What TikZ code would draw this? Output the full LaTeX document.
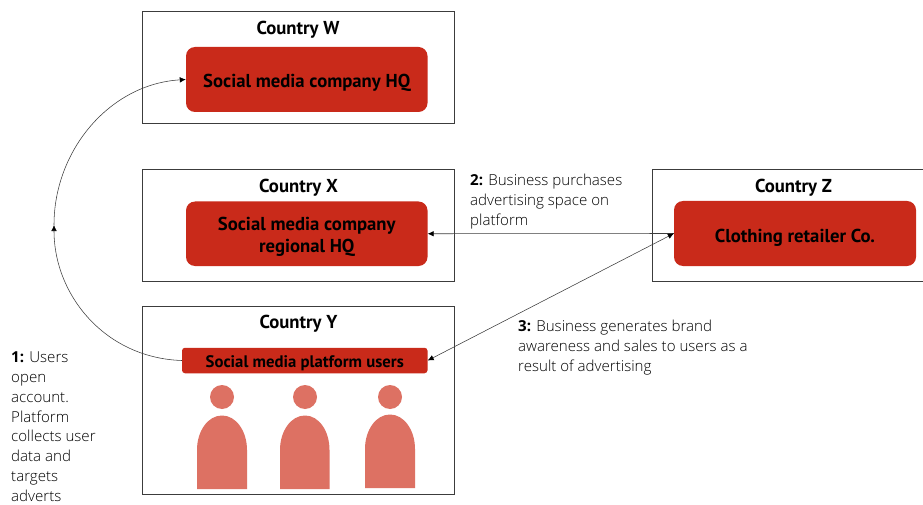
\documentclass[tikz,border=0pt]{standalone}
\usepackage{fontspec}
\setmainfont[BoldFont={Open Sans Bold}]{Open Sans Light}
\newfontfamily\boldf{PT Sans Bold}
\usetikzlibrary{arrows.meta,positioning}
\definecolor{hqred}{HTML}{C92A1A}
\definecolor{person}{HTML}{DD7163}
\definecolor{linegrey}{HTML}{3C3C3C}
\newcommand{\lowerby}[1]{\rule{0pt}{#1pt}}
\tikzset{
  x=1pt,y=-1pt,
  countrybox/.style={draw=linegrey,line width=1pt,fill=white,minimum width=#1,inner sep=0pt},
  hqbox/.style={fill=hqred,rounded corners=9pt,text=black,align=center,font=\boldf\fontsize{18.7}{22.5}\selectfont,inner sep=0pt},
  title/.style={font=\boldf\fontsize{18.7}{20}\selectfont,text=black,inner sep=0pt},
  note/.style={font=\fontsize{15.1}{19.75}\selectfont,align=left,inner sep=0pt,anchor=north west,text=black},
  link/.style={draw=linegrey,line width=0.55pt,-{Latex[length=6pt,width=5.5pt,black]}},
  head/.style={circle,fill=person,minimum size=24pt,inner sep=0pt},
  bodyshape/.style={fill=person},
}
\begin{document}
\begin{tikzpicture}
\useasboundingbox (0,0) rectangle (923,505);
\node[countrybox=312pt,minimum height=112pt] (w) at (298,68) {};
\node[countrybox=312pt,minimum height=111pt] (x) at (298,225.5) {};
\node[countrybox=312pt,minimum height=188.5pt] (y) at (298,400.25) {};
\node[countrybox=271pt,minimum height=111pt] (z) at (788,225.5) {};
\node[title] (tw) at (298,29.5) {Country W};
\node[title] (tx) at (298.5,187.5) {Country X};
\node[title] (ty) at (298.5,323.5) {Country Y};
\node[title] (tz) at (793.5,187.5) {Country Z};
\node[hqbox,minimum width=241.5pt,minimum height=65pt] (hq) at (306.75,79.5) {\lowerby{21}Social media company HQ};
\node[hqbox,minimum width=241.5pt,minimum height=64.5pt] (reg) at (306.75,233.75) {\lowerby{20}Social media company\\regional HQ};
\node[hqbox,minimum width=242pt,minimum height=65pt] (cloth) at (795,233.5) {\lowerby{21}Clothing retailer Co.};
\node[hqbox,rounded corners=3pt,minimum width=245.5pt,minimum height=25.5pt] (users) at (304.75,360.5) {\fontsize{16.7}{18}\selectfont\lowerby{17}Social media platform users};
\node[head] (h1) at (222,397) {};
\node[head] (h2) at (305,397) {};
\node[head] (h3) at (390,397) {};
\fill[bodyshape] (197,489) -- (197,450) .. controls (197,431) and (208,415.5) .. (222,415.5) .. controls (236,415.5) and (247,431) .. (247,450) -- (247,489) -- cycle;
\fill[bodyshape] (280,489) -- (280,450) .. controls (280,431) and (291,415.5) .. (305,415.5) .. controls (319,415.5) and (329.5,431) .. (329.5,450) -- (329.5,489) -- cycle;
\fill[bodyshape] (365,488) -- (365,449) .. controls (365,430) and (376,414.5) .. (390,414.5) .. controls (404,414.5) and (415,430) .. (415,449) -- (415,488) -- cycle;
\coordinate (mid) at (54,225);
\draw[link] (users.west) .. controls (105,358) and (54,295) .. (mid);
\draw[link] (mid) .. controls (54,150) and (110,84) .. (hq.west);
\draw[link] (cloth.west) -- (reg.east);
\draw[link,{Latex[length=6pt,width=5.5pt,black]}-{Latex[length=6pt,width=5.5pt,black]}] (cloth.west) -- (users.east);
\node[note] (n1) at (11,352) {\textbf{1:} Users\\open\\account.\\Platform\\collects user\\data and\\targets\\adverts};
\node[note] (n2) at (470,174) {\textbf{2:} Business purchases\\advertising space on\\platform};
\node[note] (n3) at (518,320) {\textbf{3:} Business generates brand\\awareness and sales to users as a\\result of advertising};
\end{tikzpicture}
\end{document}
